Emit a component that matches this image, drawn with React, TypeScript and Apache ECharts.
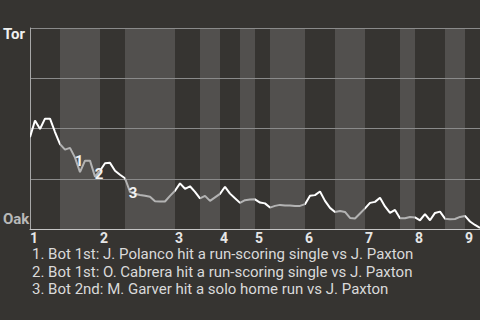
import React, { useEffect, useRef } from "react";
import * as echarts from "echarts";

// Win probability (0 = Oak, 100 = Tor), one value per play
const winProb = [
  45.7, 54, 49.75, 54.9, 54.9, 48.25, 42.25, 39.5, 40.35, 35.5,
  28.25, 34, 34, 26, 29, 32.7, 32.9, 29, 27, 25.25,
  18.5, 17.5, 16.9, 16.5, 16, 13.75, 13.7, 13.7, 16.5, 19,
  22.7, 20, 21.25, 18.5, 15.25, 16.5, 14, 15.75, 17.5, 21,
  17.6, 15.25, 13, 14.35, 14.65, 14.75, 13.15, 12.75, 10.65, 11.5,
  12, 11.75, 11.75, 11.5, 11.5, 12.35, 16.5, 16.85, 18.65, 14,
  10.5, 8.5, 9, 8.5, 5.5, 5.25, 7.75, 10.25, 13, 13.5,
  15.5, 11.25, 8, 9.5, 5.35, 5.35, 6, 5.75, 4.35, 7.35,
  4.35, 8, 8.65, 5.15, 4.85, 5, 6, 6.5, 3.75, 2,
  0.5,
];

// half-inning boundaries (play index)
const halfInningBounds = [0, 6, 14, 19, 29, 34, 38, 42, 45, 48, 55, 61, 67, 74, 77, 83, 87, 90];
const inningStarts = [0, 14, 29, 38, 45, 55, 67, 77, 87];
const inningLabels = ["1", "2", "3", "4", "5", "6", "7", "8", "9"];

const teamTop = "Tor";
const teamBottom = "Oak";

const eventPlays = [10, 13, 20];
const eventLabels = ["1", "2", "3"];
const eventNotes = [
  "1. Bot 1st: J. Polanco hit a run-scoring single vs J. Paxton",
  "2. Bot 1st: O. Cabrera hit a run-scoring single vs J. Paxton",
  "3. Bot 2nd: M. Garver hit a solo home run vs J. Paxton",
];

// label offsets (styling)
const eventOffsets = [
  [-1, -11],
  [4, -3],
  [3, 1.5],
];

export default function App() {
  const ref = useRef<HTMLDivElement>(null);

  useEffect(() => {
    document.body.style.margin = "0";
    const chart = echarts.init(ref.current!, null, { renderer: "svg" });

    const halves: { a: number; b: number; top: boolean }[] = [];
    for (let i = 0; i < halfInningBounds.length - 1; i++) {
      halves.push({ a: halfInningBounds[i], b: halfInningBounds[i + 1], top: i % 2 === 0 });
    }

    const pieces = halves.map((h, i) => {
      const p: any = { gte: h.a, color: h.top ? "#ffffff" : "#b3b3b3" };
      if (i === halves.length - 1) p.lte = h.b;
      else p.lt = h.b;
      return p;
    });

    const option: any = {
      animation: false,
      backgroundColor: "#363431",
      grid: { left: 30, top: 28, width: 450, height: 201 },
      xAxis: {
        type: "value",
        min: 0,
        max: 90,
        axisLine: { show: true, lineStyle: { color: "#c4c4c4", width: 1 } },
        axisTick: { show: false },
        splitLine: { show: false },
        axisLabel: {
          customValues: inningStarts,
          formatter: (v: number) => {
            const k = inningStarts.indexOf(v);
            return k >= 0 ? inningLabels[k] : "";
          },
          align: "left",
          margin: 3,
          lineHeight: 11,
          color: "#e6e6e6",
          fontSize: 14,
          fontWeight: "bold",
          fontFamily: "Roboto",
          showMinLabel: true,
          showMaxLabel: true,
        },
      },
      yAxis: {
        type: "value",
        min: 0,
        max: 100,
        interval: 25,
        axisLabel: { show: false },
        axisTick: { show: false },
        axisLine: { show: true, lineStyle: { color: "#a8a8a8" } },
        splitLine: { show: true, lineStyle: { color: "#8a8a8a", width: 1 } },
      },
      visualMap: {
        type: "piecewise",
        show: false,
        dimension: 0,
        seriesIndex: 1,
        pieces,
      },
      series: [
        {
          type: "line",
          data: [],
          z: -1,
          silent: true,
          markArea: {
            silent: true,
            z: -1,
            itemStyle: { color: "#52504e" },
            data: halves.filter((h) => !h.top).map((h) => [{ xAxis: h.a }, { xAxis: h.b }]),
          },
        },
        {
          type: "line",
          data: winProb.map((v, i) => [i, v]),
          symbol: "none",
          lineStyle: { width: 2 },
          z: 3,
        },
        {
          type: "scatter",
          symbol: "circle",
          symbolSize: 0,
          silent: true,
          itemStyle: { color: "#363431" },
          z: 5,
          label: {
            show: true,
            position: "inside",
            color: "#f2f2f2",
            fontSize: 15,
            fontWeight: 700,
            fontFamily: "Roboto",
            textBorderWidth: 0,
            opacity: 1,
          },
          data: eventPlays.map((p, k) => ({
            value: [p, winProb[p]],
            label: {
              formatter: eventLabels[k],
              offset: eventOffsets[k],
            },
          })),
        },
      ],
      graphic: [
        {
          type: "text",
          left: 3,
          top: 26,
          style: { text: teamTop, fill: "#f0f0f0", font: "bold 15px Roboto" },
        },
        {
          type: "text",
          left: 3,
          top: 211,
          style: { text: teamBottom, fill: "#b8b8b8", font: "bold 15px Roboto" },
        },
        ...eventNotes.map((t, k) => ({
          type: "text",
          left: 32,
          top: 246.5 + k * 17.7,
          style: { text: t, fill: "#dadada", font: "15px Roboto", lineHeight: 13 },
        })),
      ],
    };

    chart.setOption(option);
    return () => chart.dispose();
  }, []);

  return <div ref={ref} style={{ width: 480, height: 320 }} />;
}
